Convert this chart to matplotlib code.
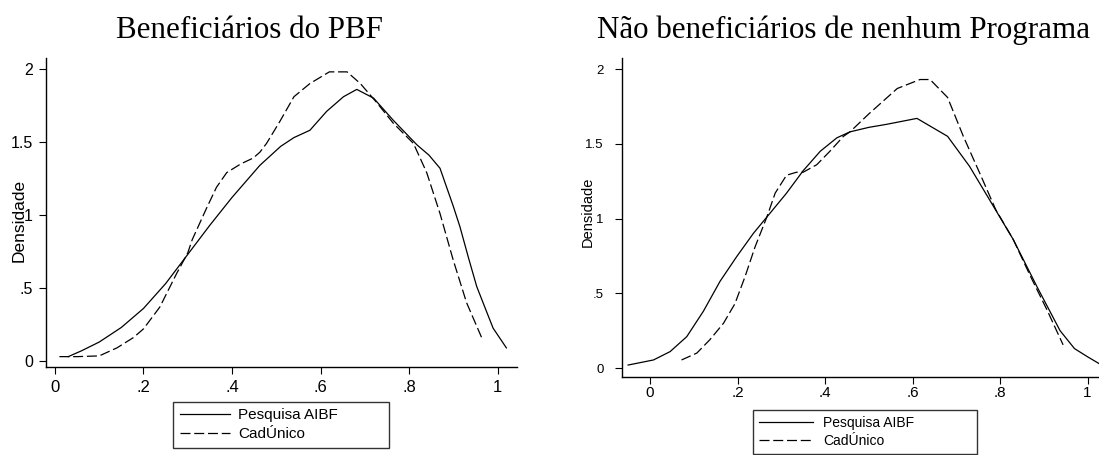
import matplotlib.pyplot as plt

plt.rcParams['font.family'] = ['Liberation Sans', 'DejaVu Sans']

# Beneficiarios do PBF - Pesquisa AIBF
pbf_aibf_x = [0.03, 0.06, 0.10, 0.15, 0.20, 0.25, 0.30, 0.35, 0.40, 0.463, 0.51, 0.54,
              0.576, 0.614, 0.652, 0.682, 0.72, 0.764, 0.818, 0.845, 0.87, 0.885, 0.90,
              0.915, 0.935, 0.953, 0.975, 0.99, 1.02]
pbf_aibf_y = [0.03, 0.07, 0.13, 0.23, 0.36, 0.53, 0.73, 0.93, 1.12, 1.34, 1.47, 1.53,
              1.58, 1.71, 1.81, 1.86, 1.80, 1.65, 1.48, 1.41, 1.32, 1.19, 1.06,
              0.92, 0.70, 0.51, 0.34, 0.225, 0.09]

# Beneficiarios do PBF - CadUnico
pbf_cad_x = [0.01, 0.05, 0.10, 0.14, 0.177, 0.20, 0.237, 0.275, 0.30, 0.31, 0.343, 0.365,
             0.388, 0.42, 0.448, 0.463, 0.478, 0.50, 0.508, 0.54, 0.576, 0.62, 0.66,
             0.69, 0.727, 0.764, 0.81, 0.84, 0.87, 0.90, 0.93, 0.967]
pbf_cad_y = [0.03, 0.03, 0.035, 0.09, 0.16, 0.22, 0.37, 0.60, 0.74, 0.83, 1.05, 1.19,
             1.29, 1.35, 1.39, 1.43, 1.49, 1.60, 1.64, 1.81, 1.90, 1.98, 1.98,
             1.90, 1.77, 1.63, 1.49, 1.29, 1.01, 0.69, 0.40, 0.14]

# Nao beneficiarios - Pesquisa AIBF
nao_aibf_x = [-0.05, 0.008, 0.046, 0.084, 0.122, 0.16, 0.198, 0.236, 0.267, 0.312, 0.35,
              0.389, 0.427, 0.457, 0.50, 0.54, 0.61, 0.68, 0.73, 0.777, 0.83, 0.885,
              0.937, 0.97, 1.0, 1.026]
nao_aibf_y = [0.02, 0.054, 0.11, 0.21, 0.38, 0.58, 0.745, 0.90, 1.01, 1.17, 1.32,
              1.45, 1.54, 1.58, 1.61, 1.63, 1.67, 1.55, 1.35, 1.12, 0.86, 0.54,
              0.25, 0.13, 0.075, 0.03]

# Nao beneficiarios - CadUnico
nao_cad_x = [0.072, 0.107, 0.137, 0.168, 0.194, 0.217, 0.24, 0.267, 0.286, 0.312, 0.335,
             0.35, 0.381, 0.411, 0.442, 0.457, 0.50, 0.565, 0.617, 0.64, 0.68, 0.716,
             0.754, 0.79, 0.83, 0.87, 0.907, 0.944]
nao_cad_y = [0.054, 0.10, 0.19, 0.30, 0.43, 0.61, 0.81, 1.01, 1.17, 1.29, 1.31,
             1.31, 1.36, 1.45, 1.55, 1.58, 1.70, 1.87, 1.93, 1.93, 1.81, 1.55,
             1.30, 1.06, 0.86, 0.61, 0.39, 0.155]

titles = ['Beneficiários do PBF', 'Não beneficiários de nenhum Programa']
labels = ['Pesquisa AIBF', 'CadÚnico']
x_ticks = [0, 0.2, 0.4, 0.6, 0.8, 1.0]
x_ticklabels = ['0', '.2', '.4', '.6', '.8', '1']
y_ticks = [0, 0.5, 1.0, 1.5, 2.0]
y_ticklabels = ['0', '.5', '1', '1.5', '2']

fig = plt.figure(figsize=(10.99, 4.55), dpi=100)
W, H = 1099, 455
ax1 = fig.add_axes([46 / W, 1 - 367 / H, 471 / W, 309 / H])
ax2 = fig.add_axes([622 / W, 1 - 377 / H, 477 / W, 319 / H])

panels = [
    # solid, dashed, limits, tick label sizes/pads, legend box and spacing
    dict(ax=ax1, s=(pbf_aibf_x, pbf_aibf_y), d=(pbf_cad_x, pbf_cad_y),
         xl=(-0.0203, 1.044), yl=(-0.041, 2.075), xfs=12, yfs=11.5, xpad=4, ypad=4.3,
         lbox=(173 / W, 1 - 402 / H, 216 / W, 0.001), lfs=11, hl=3.3, htp=0.5,
         ls=0.3, bp=0.45),
    dict(ax=ax2, s=(nao_aibf_x, nao_aibf_y), d=(nao_cad_x, nao_cad_y),
         xl=(-0.064, 1.026), yl=(-0.06, 2.074), xfs=11, yfs=9.5, xpad=1.5, ypad=8,
         lbox=(753 / W, 1 - 410 / H, 224 / W, 0.001), lfs=10, hl=3.9, htp=0.7,
         ls=0.3, bp=0.45),
]

for p in panels:
    ax = p['ax']
    ax.plot(*p['s'], color='black', lw=0.9, label=labels[0])
    ax.plot(*p['d'], color='black', lw=0.9, dashes=(8, 3), label=labels[1])
    ax.set_xlim(*p['xl'])
    ax.set_ylim(*p['yl'])
    ax.set_xticks(x_ticks)
    ax.set_xticklabels(x_ticklabels)
    ax.set_yticks(y_ticks)
    ax.set_yticklabels(y_ticklabels)
    ax.tick_params(direction='out', length=5, width=0.8)
    ax.tick_params(axis='x', labelsize=p['xfs'], pad=p['xpad'])
    ax.tick_params(axis='y', labelsize=p['yfs'], pad=p['ypad'])
    for s in ['top', 'right']:
        ax.spines[s].set_visible(False)
    for s in ['left', 'bottom']:
        ax.spines[s].set_linewidth(1.0)
    leg = ax.legend(loc='upper left', bbox_to_anchor=p['lbox'], bbox_transform=fig.transFigure,
                    mode='expand', fontsize=p['lfs'], frameon=True, fancybox=False,
                    edgecolor='black', handlelength=p['hl'], handletextpad=p['htp'],
                    labelspacing=p['ls'], borderpad=p['bp'], borderaxespad=0)
    leg.get_frame().set_linewidth(1.0)
    leg.set_clip_on(False)

fig.text(19 / W, 1 - 220 / H, 'Densidade', rotation=90, ha='center', va='center',
         fontsize=12.5)
fig.text(588 / W, 1 - 212 / H, 'Densidade', rotation=90, ha='center', va='center',
         fontsize=10.5)

fig.text(249 / W, 1 - 38 / H, titles[0], ha='center', va='baseline',
         fontsize=22.3, family=['Liberation Serif', 'DejaVu Serif'])
fig.text(843.5 / W, 1 - 38 / H, titles[1], ha='center', va='baseline',
         fontsize=22.3, family=['Liberation Serif', 'DejaVu Serif'])

fig.savefig('out.png', dpi=100)
